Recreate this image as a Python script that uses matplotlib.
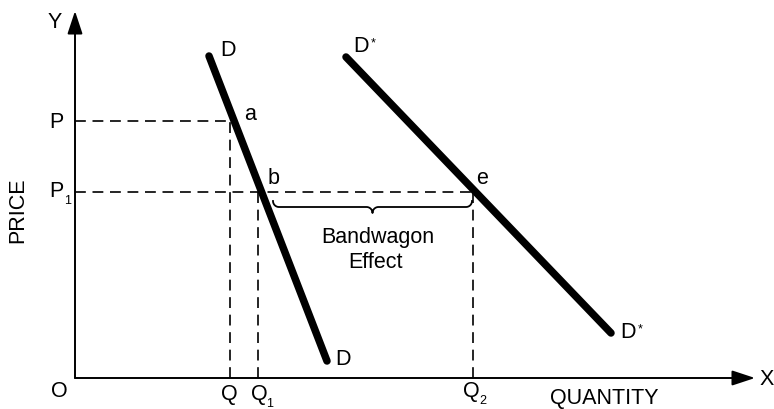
import numpy as np
import matplotlib.pyplot as plt

plt.rcParams['font.family'] = ['Liberation Sans', 'DejaVu Sans']

# Demand curves (quantity, price) end points, in diagram units
d_q = [134, 252]
d_p = [322, 17]
dstar_q = [271, 536]
dstar_p = [321, 45]

# Price levels P, P1 and quantities Q, Q1, Q2
p_level, p1_level = 257, 186
q, q1, q2 = 155, 183, 398

# Axis extents
x_end, y_end = 680, 367

# Brace for the bandwagon effect
brace_x0, brace_x1 = 198, 397
brace_y, brace_r = 171, 6

fig = plt.figure(figsize=(7.74, 4.10), dpi=100)
ax = fig.add_axes([0, 0, 1, 1])
ax.set_xlim(-75, 699)
ax.set_ylim(-31, 379)
ax.axis('off')

# axes with arrow heads
arrow = dict(arrowstyle='-|>,head_length=1.0,head_width=0.33', lw=1.4,
             color='black', mutation_scale=14, shrinkA=0, shrinkB=0)
ax.annotate('', xy=(0, y_end), xytext=(0, 0), arrowprops=arrow)
ax.annotate('', xy=(x_end, 0), xytext=(0, 0), arrowprops=arrow)

# dashed guides
dash = dict(color='black', lw=1.2, linestyle=(0, (6.5, 4)))
ax.plot([0, q], [p_level, p_level], **dash)
ax.plot([q, q], [0, p_level], **dash)
ax.plot([0, q2], [p1_level, p1_level], **dash)
ax.plot([q1, q1], [0, p1_level], **dash)
ax.plot([q2, q2], [0, p1_level], **dash)

# demand curves
ax.plot(d_q, d_p, color='black', lw=5.4, solid_capstyle='round')
ax.plot(dstar_q, dstar_p, color='black', lw=5.4, solid_capstyle='round')

# curly brace
r = brace_r
xm = (brace_x0 + brace_x1) / 2
def arc(cx, cy, a0, a1):
    t = np.radians(np.linspace(a0, a1, 20))
    return cx + r * np.cos(t), cy + r * np.sin(t)
parts = [arc(brace_x0 + r, brace_y + r, 180, 270),
         arc(xm - r, brace_y - r, 90, 0),
         arc(xm + r, brace_y - r, 180, 90),
         arc(brace_x1 - r, brace_y + r, 270, 360)]
bx = np.concatenate([p[0] for p in parts])
by = np.concatenate([p[1] for p in parts])
ax.plot(bx, by, color='black', lw=1.3)

fs = 15.5
sub = 9
txt = dict(fontsize=fs, ha='center', va='center', color='black')
small = dict(fontsize=sub, ha='center', va='center', color='black')
ax.text(-20, 357, 'Y', **txt)
ax.text(692, -1, 'X', **txt)
ax.text(-16, -13, 'O', **txt)
ax.text(-19, p_level, 'P', **txt)
ax.text(-19, p1_level + 1, 'P', **txt)
ax.text(-7, p1_level - 8, '1', **small)
ax.text(q - 1, -16, 'Q', **txt)
ax.text(q1 + 1, -16, 'Q', **txt)
ax.text(q1 + 12, -25, '1', **small)
ax.text(q2 - 2, -13, 'Q', **txt)
ax.text(q2 + 10, -22, '2', **small)
ax.text(529, -20, 'QUANTITY', **txt)
ax.text(-57, 169, 'PRICE', rotation=90, **txt)

ax.text(153, 329, 'D', **txt)
ax.text(175, 264, 'a', **txt)
ax.text(199, 200, 'b', **txt)
ax.text(407, 200, 'e', **txt)
ax.text(268, 19, 'D', **txt)
ax.text(286, 332, 'D', **txt)
ax.text(298, 336, '*', **small)
ax.text(553, 46, 'D', **txt)
ax.text(565, 50, '*', **small)
ax.text(303, 141, 'Bandwagon', **txt)
ax.text(300, 117, 'Effect', **txt)

fig.savefig('out.png', dpi=100, facecolor='white')
